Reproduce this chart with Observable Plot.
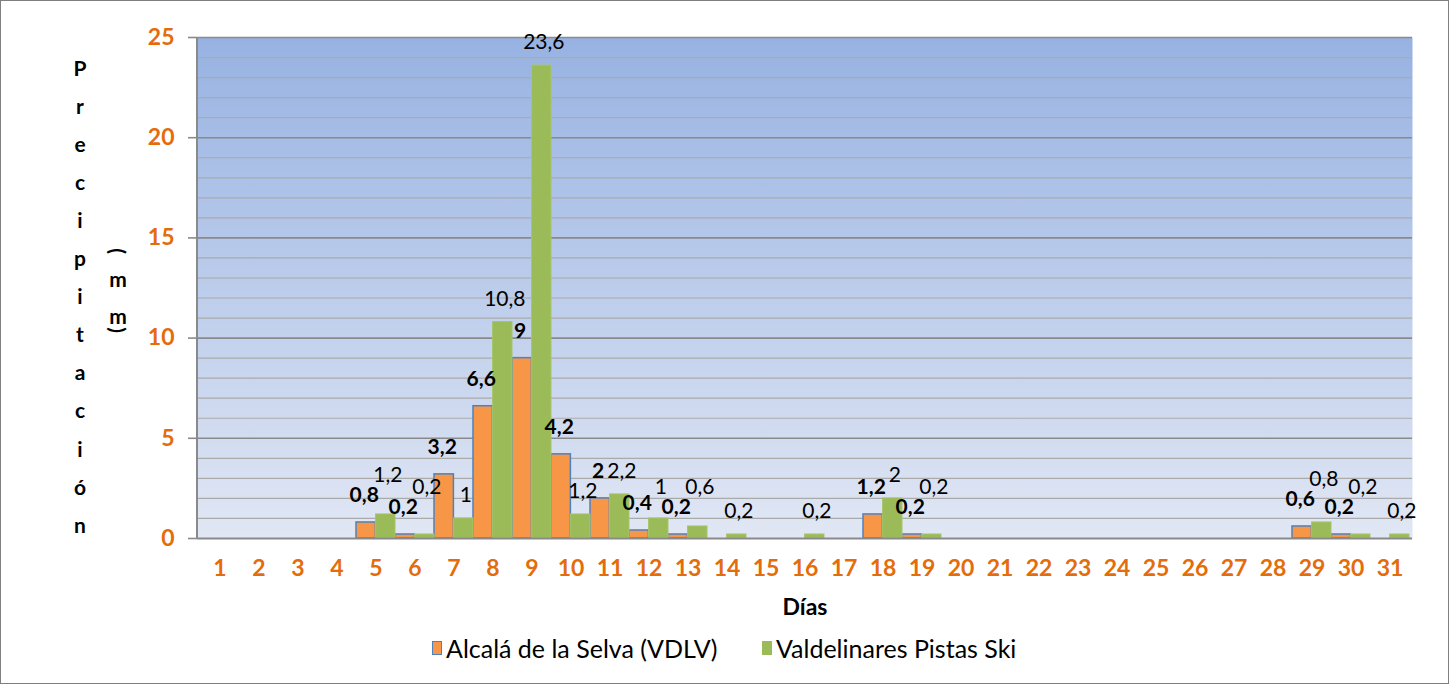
<!DOCTYPE html>
<html><head><meta charset="utf-8">
<script src="https://cdn.jsdelivr.net/npm/d3@7"></script>
<script src="https://cdn.jsdelivr.net/npm/@observablehq/plot@0.6"></script>
<style>
body{margin:0;background:#fff;}
#wrap{position:relative;width:1449px;height:684px;overflow:hidden;font-family:Lato,"Open Sans",sans-serif;background:#fff;}
#border{position:absolute;left:0;top:0;width:1449px;height:684px;box-sizing:border-box;border:1px solid #7f7f7f;pointer-events:none;}
#chart{position:absolute;left:0;top:0;}
.leg{position:absolute;top:634px;height:28px;line-height:28px;font-size:25px;color:#000;display:flex;align-items:center;white-space:nowrap;}
.sw{display:inline-block;width:10px;height:14px;margin-right:4px;box-sizing:border-box;}
</style></head>
<body>
<div id="wrap">
  <div id="chart"></div>
  <div class="leg" style="left:432px"><span class="sw" style="background:#f79646;border:1.5px solid #4f81bd"></span><span id="l1"></span></div>
  <div class="leg" style="left:762px"><span class="sw" style="background:#9bbb59;"></span><span id="l2"></span></div>
  <div id="border"></div>
</div>
<script>
const days = [1,2,3,4,5,6,7,8,9,10,11,12,13,14,15,16,17,18,19,20,21,22,23,24,25,26,27,28,29,30,31];
const alcala = [0,0,0,0,0.8,0.2,3.2,6.6,9,4.2,2,0.4,0.2,0,0,0,0,1.2,0.2,0,0,0,0,0,0,0,0,0,0.6,0.2,0];
const valdelinares = [0,0,0,0,1.2,0.2,1,10.8,23.6,1.2,2.2,1,0.6,0.2,0,0.2,0,2,0.2,0,0,0,0,0,0,0,0,0,0.8,0.2,0.2];
const seriesNames = ["Alcalá de la Selva (VDLV)", "Valdelinares Pistas Ski"];
const yTicks = [0,5,10,15,20,25];
const gridValues = [1,2,3,4,5,6,7,8,9,10,11,12,13,14,15,16,17,18,19,20,21,22,23,24,25];
const yTitle = "Precipitación";
const yUnit = "(mm)";
const xTitle = "Días";

document.getElementById("l1").textContent = seriesNames[0];
document.getElementById("l2").textContent = seriesNames[1];

const W = 1449, H = 625, mL = 197, mR = 37, mT = 37, mB = 87;
const bw = (W - mL - mR) / days.length;
const pxPerUnit = (H - mT - mB) / 25;
const fmt = v => String(v).replace(".", ",");
const font = "Lato, 'Open Sans', sans-serif";
const LFS = 21;

// text width measurement for label collision avoidance
const ctx = document.createElement("canvas").getContext("2d");
const measure = (t, bold) => { ctx.font = `${bold ? "bold " : ""}${LFS}px Lato`; return ctx.measureText(t).width; };

const A = days.map((d,i) => ({day:d, i, v:alcala[i]})).filter(d => d.v > 0);
const V = days.map((d,i) => ({day:d, i, v:valdelinares[i]})).filter(d => d.v > 0);

// place labels (pixel offsets converted back to data units through the y scale ratio)
const placed = [];
const LH = 19;
A.forEach(d => {
  d.lx = mL + (d.i + 0.25) * bw - 2;
  d.ly = (25 - d.v) * pxPerUnit + mT - 27;
  d.w = measure(fmt(d.v), true);
  placed.push(d);
});
const hits = (a, b) => Math.abs(a.lx - b.lx) < (a.w + b.w) / 2 + 1 && Math.abs(a.ly - b.ly) < LH;
V.forEach(d => {
  d.lx = mL + (d.i + 0.75) * bw + 2;
  d.ly = (25 - d.v) * pxPerUnit + mT - 23;
  d.w = measure(fmt(d.v), false);
  let guard = 0;
  while (placed.some(p => hits(p, d)) && guard++ < 40) d.ly -= 2;
  placed.push(d);
});
[...A, ...V].forEach(d => { d.yl = 25 - (d.ly - mT) / pxPerUnit; });

const chart = Plot.plot({
  width: W, height: H,
  marginLeft: mL, marginRight: mR, marginTop: mT, marginBottom: mB,
  style: {fontFamily: font, background: "transparent", overflow: "visible"},
  x: {type: "band", domain: days, padding: 0, label: null},
  y: {domain: [0, 25], label: null},
  marks: [
    Plot.frame({fill: "url(#bggrad)", stroke: "none"}),
    Plot.ruleY(gridValues.filter(v => v % 5 !== 0), {stroke: "#aaaaaa", strokeWidth: 1.2}),
    Plot.ruleY(gridValues.filter(v => v % 5 === 0), {stroke: "#8a8a8a", strokeWidth: 1.6}),
    Plot.barY(A, {x: "day", y: "v", fill: "#f79646", stroke: "#4f81bd", strokeWidth: 1.5, insetRight: bw/2}),
    Plot.barY(V, {x: "day", y: "v", fill: "#9bbb59", stroke: "#a6c46a", strokeWidth: 1, insetLeft: bw/2}),
    Plot.ruleY([0], {stroke: "#8a8a8a", strokeWidth: 2}),
    Plot.axisY({ticks: yTicks, tickSize: 9, tickPadding: 14, stroke: "#8a8a8a", strokeWidth: 1.6, fill: "#e46c0a", fontWeight: "bold", fontSize: 23, label: null}),
    Plot.axisX({tickSize: 0, tickPadding: 21, fill: "#e46c0a", fontWeight: "bold", fontSize: 23, label: null}),
    Plot.text(A, {x: "day", y: "yl", text: d => fmt(d.v), dx: -bw/4 - 2, fontWeight: "bold", fontSize: LFS, fill: "#000"}),
    Plot.text(V, {x: "day", y: "yl", text: d => fmt(d.v), dx: bw/4 + 2, fontSize: LFS, fill: "#000"}),
    Plot.text([xTitle], {frameAnchor: "bottom", dy: 76, fontWeight: "bold", fontSize: 23, fill: "#000"})
  ]
});
document.getElementById("chart").appendChild(chart);

const svg = d3.select(chart);
const defs = svg.insert("defs", ":first-child");
const g = defs.append("linearGradient").attr("id", "bggrad").attr("x1", 0).attr("y1", 0).attr("x2", 0).attr("y2", 1);
g.append("stop").attr("offset", "0%").attr("stop-color", "#97b2e2");
g.append("stop").attr("offset", "100%").attr("stop-color", "#e1e7f4");

// y-axis line
svg.append("line").attr("x1", mL).attr("x2", mL).attr("y1", mT).attr("y2", H - mB)
  .attr("stroke", "#8a8a8a").attr("stroke-width", 2);

// stacked y title
const tg = svg.append("g").attr("font-family", font).attr("font-weight", "bold").attr("font-size", 21).attr("fill", "#000").attr("text-anchor", "middle");
Array.from(yTitle).forEach((ch, i) => {
  tg.append("text").attr("x", 80).attr("y", 67 + i * 38.1).attr("dominant-baseline", "central").text(ch);
});
const unitY = [251, 278, 315, 330];
Array.from(yUnit).forEach((ch, i) => {
  const t = tg.append("text").attr("dominant-baseline", "central").text(ch);
  if (ch === "(" || ch === ")") t.attr("transform", `translate(118,${unitY[i]}) rotate(90)`);
  else t.attr("x", 118).attr("y", unitY[i]);
});
</script>
</body></html>
